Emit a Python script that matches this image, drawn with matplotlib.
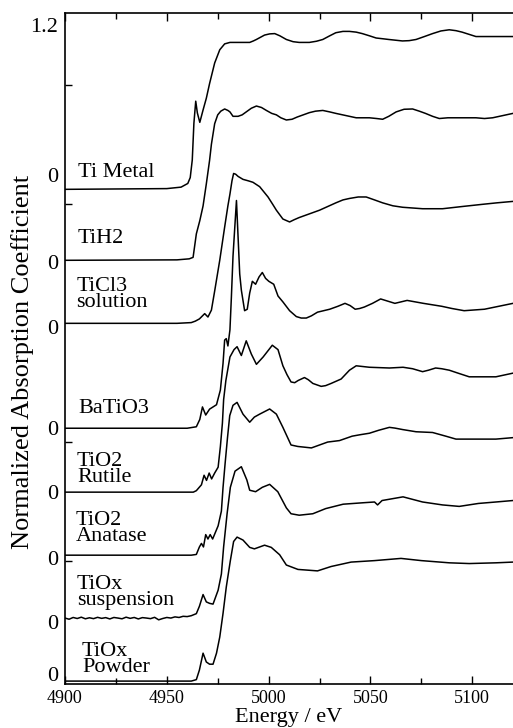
import numpy as np
import matplotlib
matplotlib.use('Agg')
import matplotlib.pyplot as plt

plt.rcParams['font.family'] = ['Liberation Serif', 'DejaVu Serif']

# sample names (top to bottom) and vertical offsets of their zero lines
names = ['Ti Metal', 'TiH2', 'TiCl3\nsolution', 'BaTiO3', 'TiO2\nRutile',
         'TiO2\nAnatase', 'TiOx\nsuspension', 'TiOx\nPowder']
offsets = [3.347, 2.864, 2.435, 1.721, 1.286, 0.857, 0.429, 0.0]

# spectra: energy (eV) and normalized absorption
e_ti = [4900, 4950, 4957, 4960.3, 4961.5, 4962.5, 4963.3, 4964.2, 4965, 4966.2, 4967.8,
        4969.4, 4971, 4973.5, 4976, 4978.4, 4981, 4984.2, 4987.3, 4990.7, 4992.5, 4994,
        4996, 4998, 5000.5, 5003, 5005.5, 5008.7, 5012, 5015, 5020, 5023.5, 5026.6,
        5030, 5033, 5036.5, 5039.7, 5043, 5046, 5049.5, 5052.8, 5056, 5059, 5065.7,
        5069, 5072.4, 5076.5, 5080.5, 5084.6, 5088.7, 5092, 5095, 5098.4, 5101.8,
        5108, 5120]
v_ti = [0, 0.005, 0.015, 0.04, 0.08, 0.2, 0.45, 0.6, 0.52, 0.456, 0.54,
        0.62, 0.72, 0.86, 0.95, 0.99, 1.0, 1.0, 1.0, 1.0, 1.01, 1.02,
        1.035, 1.05, 1.058, 1.06, 1.045, 1.02, 1.005, 1.0, 1.0, 1.008, 1.02,
        1.045, 1.066, 1.075, 1.075, 1.07, 1.06, 1.045, 1.03, 1.025, 1.02, 1.01,
        1.012, 1.02, 1.04, 1.06, 1.078, 1.086, 1.08, 1.07, 1.055, 1.04,
        1.04, 1.04]

e_tih2 = [4900, 4955, 4961, 4962.9, 4964.5, 4966.2, 4967.8, 4969.4, 4971, 4971.9, 4973.5,
          4975, 4976.5, 4978.4, 4980, 4981, 4982.5, 4985, 4987, 4989, 4991.5, 4994,
          4996.5, 4998.9, 5001.5, 5003.8, 5006, 5008.7, 5011.5, 5014, 5017, 5020, 5023,
          5026.6, 5030, 5033, 5038, 5043, 5049.5, 5053, 5056, 5059, 5062.6, 5066.5,
          5070.7, 5074, 5077, 5080.5, 5083.8, 5088, 5092, 5101.8, 5106, 5110, 5115, 5120]
v_tih2 = [0, 0.003, 0.01, 0.02, 0.18, 0.27, 0.37, 0.52, 0.68, 0.79, 0.93,
          0.99, 1.015, 1.03, 1.02, 1.01, 0.98, 0.98, 0.99, 1.01, 1.035, 1.05,
          1.04, 1.02, 1.0, 0.99, 0.97, 0.955, 0.96, 0.975, 0.99, 1.005, 1.015,
          1.02, 1.01, 1.0, 0.985, 0.97, 0.97, 0.965, 0.96, 0.98, 1.01, 1.028,
          1.03, 1.015, 1.0, 0.98, 0.965, 0.97, 0.97, 0.97, 0.965, 0.97, 0.985, 1.0]

e_ticl3 = [4900, 4955, 4962, 4964, 4966, 4968.6, 4970.2, 4971.9, 4973.5, 4976, 4978.4,
           4980, 4981, 4982, 4982.8, 4983.8, 4985, 4987.4, 4990, 4992.3, 4995.6, 4999.7,
           5002, 5003.8, 5007, 5010.3, 5012.5, 5015, 5020, 5025, 5029, 5033, 5036.5,
           5039.7, 5044, 5047.9, 5052, 5056, 5061, 5065.8, 5075.6, 5085.4, 5095, 5105,
           5112, 5120]
v_ticl3 = [0, 0.0, 0.005, 0.015, 0.03, 0.066, 0.043, 0.09, 0.22, 0.43, 0.655,
           0.8, 0.88, 0.97, 1.02, 1.015, 1.0, 0.98, 0.97, 0.96, 0.93, 0.86,
           0.81, 0.77, 0.71, 0.69, 0.705, 0.72, 0.745, 0.77, 0.795, 0.82, 0.84,
           0.85, 0.86, 0.86, 0.84, 0.82, 0.80, 0.79, 0.78, 0.78, 0.795, 0.81,
           0.82, 0.83]

e_bati = [4900, 4960, 4964.5, 4966.2, 4967.5, 4969.1, 4971, 4974.4, 4976.3, 4977.6, 4978.4,
          4979.2, 4980, 4981, 4981.7, 4982.5, 4983.3, 4984.2, 4985, 4985.8, 4986.6, 4988.2,
          4989.5, 4990.7, 4992, 4993.6, 4995.3, 4996.9, 4998.5, 5000.1, 5002.5, 5004.6,
          5007, 5010.3, 5013.6, 5016, 5018.5, 5021, 5024, 5027, 5030, 5034, 5037.5, 5040,
          5042.5, 5044.7, 5047, 5051, 5055, 5058.5, 5062, 5065, 5068, 5072, 5076, 5085,
          5090, 5096, 5106, 5113, 5120]
v_bati = [0, 0.0, 0.01, 0.06, 0.145, 0.09, 0.13, 0.16, 0.26, 0.44, 0.6,
          0.61, 0.56, 0.67, 0.89, 1.17, 1.35, 1.55, 1.3, 1.05, 0.94, 0.8,
          0.81, 0.92, 1.0, 0.98, 1.03, 1.06, 1.02, 1.0, 0.98, 0.9,
          0.86, 0.8, 0.76, 0.75, 0.75, 0.765, 0.79, 0.8, 0.81, 0.83, 0.85, 0.835,
          0.81, 0.815, 0.825, 0.85, 0.88, 0.865, 0.85, 0.86, 0.87, 0.86, 0.85, 0.83,
          0.815, 0.80, 0.81, 0.83, 0.85]

e_rut = [4900, 4963, 4964.5, 4967, 4968.3, 4969.5, 4970.8, 4972, 4973.5, 4975.2, 4976.3,
         4977.3, 4977.9, 4979, 4981, 4983, 4984.5, 4986.6, 4989, 4991.5, 4994, 4997.3,
         5001.8, 5004.6, 5007, 5009, 5011, 5012.8, 5014.5, 5017.6, 5019.5, 5021.7, 5025.8,
         5028, 5030.7, 5035.6, 5039.7, 5043, 5049.5, 5059.3, 5066, 5070.7, 5075.6, 5078.5,
         5082, 5085, 5088.7, 5093, 5098.5, 5111.6, 5120]
v_rut = [0, 0.0, 0.01, 0.05, 0.115, 0.08, 0.13, 0.09, 0.13, 0.17, 0.31,
         0.47, 0.63, 0.76, 0.92, 0.97, 0.99, 0.93, 1.03, 0.94, 0.87, 0.92,
         1.0, 0.97, 0.86, 0.8, 0.75, 0.745, 0.76, 0.78, 0.765, 0.74, 0.72,
         0.725, 0.74, 0.77, 0.83, 0.86, 0.85, 0.845, 0.85, 0.84, 0.82, 0.83,
         0.845, 0.84, 0.83, 0.81, 0.785, 0.785, 0.81]

e_ana = [4900, 4962, 4964.5, 4966, 4967, 4968, 4969.1, 4970.2, 4971.3, 4972.5, 4974,
         4975.2, 4976.8, 4977.6, 4978.6, 4979.8, 4980.9, 4982.5, 4984.5, 4987.4, 4990.7,
         4993, 4995.6, 5000.5, 5003.8, 5007, 5011, 5014.3, 5021, 5029, 5034.8, 5041,
         5045, 5049.5, 5054, 5059.3, 5062, 5065.8, 5072.4, 5080.5, 5087, 5092, 5101.8,
         5111.6, 5120]
v_ana = [0, 0.0, 0.005, 0.056, 0.08, 0.056, 0.14, 0.11, 0.14, 0.11, 0.16,
         0.2, 0.3, 0.46, 0.62, 0.8, 0.95, 1.02, 1.04, 0.96, 0.905,
         0.94, 0.96, 0.995, 0.96, 0.87, 0.75, 0.74, 0.73, 0.77, 0.78, 0.81,
         0.82, 0.83, 0.85, 0.87, 0.865, 0.855, 0.84, 0.835, 0.81, 0.79, 0.79,
         0.79, 0.80]

e_sus = [4900, 4902, 4904, 4906, 4908, 4910, 4912, 4914, 4916, 4918, 4920, 4922, 4924,
         4926, 4928, 4930, 4932, 4934, 4936, 4938, 4940, 4942, 4944, 4946, 4948, 4950,
         4952, 4954, 4956, 4958, 4960, 4962, 4964.5, 4966, 4967.8, 4969.4, 4971, 4972.7,
         4975.2, 4976.8, 4977.9, 4979.6, 4981.2, 4983.5, 4986.6, 4989.3, 4990.7, 4993.6,
         4996.9, 5000.5, 5004.5, 5008.7, 5011, 5015, 5021.7, 5028, 5036.6, 5046.6, 5052,
         5053.5, 5055.7, 5066, 5075.6, 5085.4, 5093.6, 5103, 5111.6, 5120]
v_sus = [0.0, -0.008, 0.004, -0.003, 0.006, -0.005, 0.002, -0.004, 0.005, -0.002, 0.003,
         -0.006, 0.004, 0.0, -0.005, 0.006, -0.002, 0.004, -0.006, 0.003, 0.0, -0.004,
         0.005, -0.012, -0.003, 0.004, 0.0, 0.008, 0.004, 0.012, 0.01, 0.016, 0.03, 0.08,
         0.16, 0.11, 0.10, 0.095, 0.19, 0.30, 0.485, 0.71, 0.89, 1.0, 1.03, 0.94, 0.87, 0.86,
         0.89, 0.91, 0.86, 0.75, 0.71, 0.70, 0.71, 0.745, 0.775, 0.785, 0.79,
         0.77, 0.80, 0.825, 0.79, 0.77, 0.76, 0.78, 0.79, 0.80]

e_pow = [4900, 4962, 4964.5, 4966, 4967.8, 4969.4, 4971, 4972.7, 4974.4, 4976, 4977.6,
         4979.2, 4981.2, 4982.8, 4984.5, 4987.4, 4990.7, 4993, 4998, 5001.3, 5005.4,
         5008.7, 5014.4, 5019.3, 5024, 5030.7, 5040.5, 5052, 5065, 5075, 5088.7, 5098.5,
         5111.6, 5120]
v_pow = [0, 0.0, 0.01, 0.075, 0.19, 0.13, 0.115, 0.115, 0.19, 0.30, 0.46,
         0.64, 0.82, 0.95, 0.98, 0.96, 0.91, 0.90, 0.925, 0.91, 0.86,
         0.79, 0.76, 0.755, 0.75, 0.78, 0.81, 0.82, 0.835, 0.82, 0.805, 0.80,
         0.805, 0.81]

energies = [e_ti, e_tih2, e_ticl3, e_bati, e_rut, e_ana, e_sus, e_pow]
values = [v_ti, v_tih2, v_ticl3, v_bati, v_rut, v_ana, v_sus, v_pow]

# label anchor (energy, centre height) for each sample name
label_x = [4906.4, 4906.4, 4905.7, 4906.4, 4905.9, 4905.4, 4905.9, 4908.3]
label_y = [3.463, 3.014, 2.633, 1.857, 1.442, 1.037, 0.605, 0.146]

# y tick labels: "0" for each spectrum and 1.2 at the top
ytick_pos = [4.463, 3.442, 2.850, 2.408, 1.721, 1.286, 0.837, 0.401, 0.045]
ytick_lab = ['1.2', '0', '0', '0', '0', '0', '0', '0', '0']

fig = plt.figure(figsize=(5.13, 7.28), dpi=100)
ax = fig.add_axes([0.1267, 0.0604, 0.8733, 0.9217])

for e, v, off in zip(energies, values, offsets):
    ax.plot(e, np.array(v) + off, color='black', lw=1.1)

for name, x, y in zip(names, label_x, label_y):
    ax.text(x, y, name, fontsize=16, ha='left', va='center', linespacing=0.8)

ax.set_xlim(4900, 5120)
ax.set_ylim(-0.02, 4.547)
ax.set_xticks([4900, 4950, 5000, 5050, 5100])
ax.set_xticks([4925, 4975, 5025, 5075], minor=True)
ax.tick_params(axis='x', which='both', direction='in', top=True, labelsize=13, pad=4)
ax.tick_params(axis='x', which='major', length=6, width=1.0)
ax.tick_params(axis='x', which='minor', length=4, width=1.0)

ax.set_yticks(ytick_pos)
ax.set_yticklabels(ytick_lab)
ax.set_yticks([4.054, 3.245, 1.626, 0.816], minor=True)
ax.tick_params(axis='y', which='major', length=0, labelsize=16, pad=5)
ax.tick_params(axis='y', which='minor', direction='in', length=5, width=1.0)

ax.spines['right'].set_visible(False)
for s in ['left', 'top', 'bottom']:
    ax.spines[s].set_linewidth(1.2)

ax.set_xlabel('Energy / eV', fontsize=16, labelpad=1)
ax.set_ylabel('Normalized Absorption Coefficient', fontsize=19)
ax.yaxis.set_label_coords(-0.07, 0.48)

fig.savefig('out.png', dpi=100)
